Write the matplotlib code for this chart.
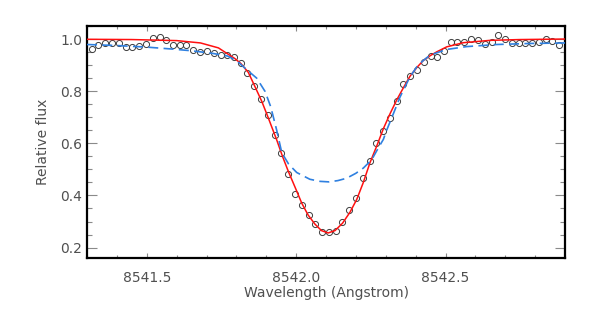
import numpy as np
import matplotlib
matplotlib.use('Agg')
import matplotlib.pyplot as plt
from matplotlib.ticker import MultipleLocator, FormatStrFormatter


# observed spectrum (circles)
wave_obs = [8541.316, 8541.338, 8541.361, 8541.384, 8541.406, 8541.429, 8541.452,
            8541.474, 8541.497, 8541.520, 8541.543, 8541.565, 8541.588, 8541.611,
            8541.633, 8541.656, 8541.679, 8541.701, 8541.724, 8541.747, 8541.769,
            8541.792, 8541.815, 8541.837, 8541.860, 8541.883, 8541.905, 8541.928,
            8541.951, 8541.974, 8541.996, 8542.019, 8542.042, 8542.064, 8542.087,
            8542.110, 8542.132, 8542.155, 8542.178, 8542.200, 8542.223, 8542.246,
            8542.268, 8542.291, 8542.314, 8542.336, 8542.359, 8542.382, 8542.404,
            8542.427, 8542.450, 8542.472, 8542.495, 8542.518, 8542.540, 8542.563,
            8542.586, 8542.609, 8542.631, 8542.654, 8542.677, 8542.699, 8542.722,
            8542.745, 8542.767, 8542.790, 8542.813, 8542.835, 8542.858, 8542.881]
flux_obs = [0.962, 0.979, 0.985, 0.985, 0.984, 0.970, 0.970, 0.972, 0.980, 1.005,
            1.007, 0.995, 0.978, 0.978, 0.978, 0.958, 0.949, 0.953, 0.947, 0.940,
            0.938, 0.930, 0.907, 0.871, 0.818, 0.770, 0.708, 0.632, 0.562, 0.482,
            0.405, 0.362, 0.324, 0.289, 0.261, 0.258, 0.263, 0.299, 0.344, 0.392,
            0.465, 0.533, 0.601, 0.647, 0.696, 0.762, 0.828, 0.857, 0.880, 0.912,
            0.935, 0.932, 0.956, 0.988, 0.990, 0.988, 1.001, 0.998, 0.980, 0.990,
            1.015, 1.001, 0.985, 0.985, 0.984, 0.983, 0.988, 1.001, 0.994, 0.978]

# fitted profile (red solid)
wave_fit = [8541.300, 8541.450, 8541.600, 8541.680, 8541.740, 8541.795, 8541.815,
            8541.840, 8541.862, 8541.885, 8541.907, 8541.935, 8541.955, 8541.974,
            8541.997, 8542.019, 8542.040, 8542.063, 8542.085, 8542.107, 8542.130,
            8542.155, 8542.180, 8542.203, 8542.225, 8542.247, 8542.270, 8542.292,
            8542.315, 8542.337, 8542.360, 8542.381, 8542.405, 8542.426, 8542.450,
            8542.471, 8542.504, 8542.560, 8542.650, 8542.750, 8542.900]
flux_fit = [0.999, 0.998, 0.994, 0.985, 0.966, 0.925, 0.906, 0.872, 0.818, 0.761,
            0.697, 0.613, 0.548, 0.492, 0.430, 0.370, 0.325, 0.290, 0.265, 0.256,
            0.265, 0.293, 0.335, 0.385, 0.450, 0.525, 0.590, 0.656, 0.715, 0.767,
            0.815, 0.857, 0.892, 0.918, 0.937, 0.951, 0.970, 0.986, 0.995, 0.998,
            1.000]

# comparison profile (blue dashed)
wave_cmp = [8541.300, 8541.400, 8541.500, 8541.580, 8541.650, 8541.720, 8541.770,
            8541.800, 8541.835, 8541.868, 8541.896, 8541.915, 8541.935, 8541.952,
            8541.975, 8542.002, 8542.046, 8542.080, 8542.110, 8542.140, 8542.169,
            8542.200, 8542.225, 8542.253, 8542.275, 8542.292, 8542.303, 8542.325,
            8542.348, 8542.381, 8542.405, 8542.426, 8542.448, 8542.504, 8542.571,
            8542.671, 8542.783, 8542.900]
flux_cmp = [0.979, 0.975, 0.969, 0.962, 0.955, 0.945, 0.935, 0.918, 0.882, 0.850,
            0.799, 0.740, 0.650, 0.564, 0.520, 0.488, 0.462, 0.454, 0.452, 0.457,
            0.466, 0.485, 0.505, 0.537, 0.582, 0.615, 0.650, 0.712, 0.778, 0.855,
            0.895, 0.918, 0.938, 0.960, 0.971, 0.979, 0.983, 0.985]

xticks = [8541.5, 8542.0, 8542.5]
yticks = [0.2, 0.4, 0.6, 0.8, 1.0]

txt = '#505050'
tkc = '#8a8a8a'

fig = plt.figure(figsize=(5.91, 3.14), dpi=100)
ax = fig.add_axes([87/591, 56/314, 478/591, 232/314])

ax.plot(wave_obs, flux_obs, 'o', mfc='none', mec='#3c3c3c', ms=4.4, mew=0.7, zorder=2)
ax.plot(wave_fit, flux_fit, '-', color='#ff1010', lw=1.1, zorder=3)
ax.plot(wave_cmp, flux_cmp, color='#2f80e0', lw=1.2, ls=(0, (6, 3.2)), zorder=4)

ax.set_xlim(8541.3, 8542.9)
ax.set_ylim(0.16, 1.05)
ax.set_xticks(xticks)
ax.set_yticks(yticks)
ax.xaxis.set_minor_locator(MultipleLocator(0.1))
ax.yaxis.set_minor_locator(MultipleLocator(0.05))
ax.xaxis.set_major_formatter(FormatStrFormatter('%.1f'))
ax.yaxis.set_major_formatter(FormatStrFormatter('%.1f'))

ax.tick_params(axis='both', which='both', direction='in', top=True, right=True,
               color=tkc, width=0.8, labelcolor=txt, labelsize=10)
ax.tick_params(axis='x', which='major', length=3.4, pad=9)
ax.tick_params(axis='x', which='minor', length=2.2)
ax.tick_params(axis='y', which='major', length=7.2, pad=3.6)
ax.tick_params(axis='y', which='minor', length=3.6)

for s in ax.spines.values():
    s.set_linewidth(1.6)
    s.set_color('black')

ax.set_xlabel('Wavelength (Angstrom)', fontsize=10, color=txt, labelpad=1)
ax.set_ylabel('Relative flux', fontsize=10, color=txt, labelpad=7)

fig.savefig('out.png', dpi=100)
